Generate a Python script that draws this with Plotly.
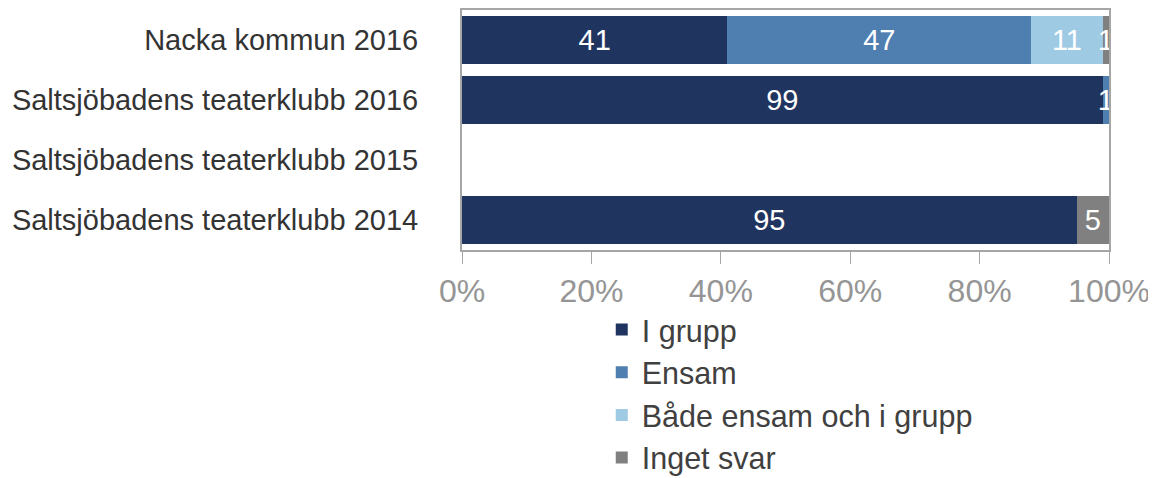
import plotly.graph_objects as go

# Data
categories = ['Nacka kommun 2016', 'Saltsjöbadens teaterklubb 2016',
              'Saltsjöbadens teaterklubb 2015', 'Saltsjöbadens teaterklubb 2014']
i_grupp = [41, 99, None, 95]
ensam = [47, 1, None, None]
bade = [11, None, None, None]
inget_svar = [1, None, None, 5]

series = [
    ('I grupp', i_grupp, '#203460'),
    ('Ensam', ensam, '#4f7fb0'),
    ('Både ensam och i grupp', bade, '#9ecae3'),
    ('Inget svar', inget_svar, '#808080'),
]

fig = go.Figure()
for name, vals, color in series:
    fig.add_trace(go.Bar(
        y=categories,
        x=vals,
        name=name,
        orientation='h',
        marker=dict(color=color, line=dict(width=0)),
        text=vals,
        textposition='inside',
        insidetextanchor='middle',
        constraintext='none',
        textfont=dict(color='white', size=29, family='Liberation Sans'),
        legendgroup=name,
    ))

fig.update_layout(
    barmode='stack',
    barnorm='percent',
    bargap=0.19,
    width=1156,
    height=478,
    margin=dict(l=454, r=55, t=2, b=236, autoexpand=False),
    plot_bgcolor='white',
    paper_bgcolor='white',
    font=dict(family='Liberation Sans', size=29, color='#333333'),
    showlegend=True,
    legend=dict(
        x=0.216, y=-0.222, xanchor='left', yanchor='top',
        orientation='v',
        font=dict(size=30.5, color='#404040'),
        tracegroupgap=0,
        itemwidth=30,
    ),
)

fig.update_xaxes(
    range=[0, 100],
    tickvals=[0, 20, 40, 60, 80, 100],
    ticktext=['0%', '20%', '40%', '60%', '80%', '100%'],
    tickfont=dict(size=32, color='#959595'),
    ticks='outside', ticklen=12, tickcolor='#a6a6a6',
    showgrid=False, zeroline=False,
    showline=True, linecolor='#a6a6a6', linewidth=2, mirror=True,
)
fig.update_yaxes(
    autorange='reversed',
    tickfont=dict(size=29, color='#333333'),
    ticks='', ticklabelstandoff=36,
    showgrid=False,
    showline=True, linecolor='#a6a6a6', linewidth=2, mirror=True,
)

fig.write_html("out.html")
